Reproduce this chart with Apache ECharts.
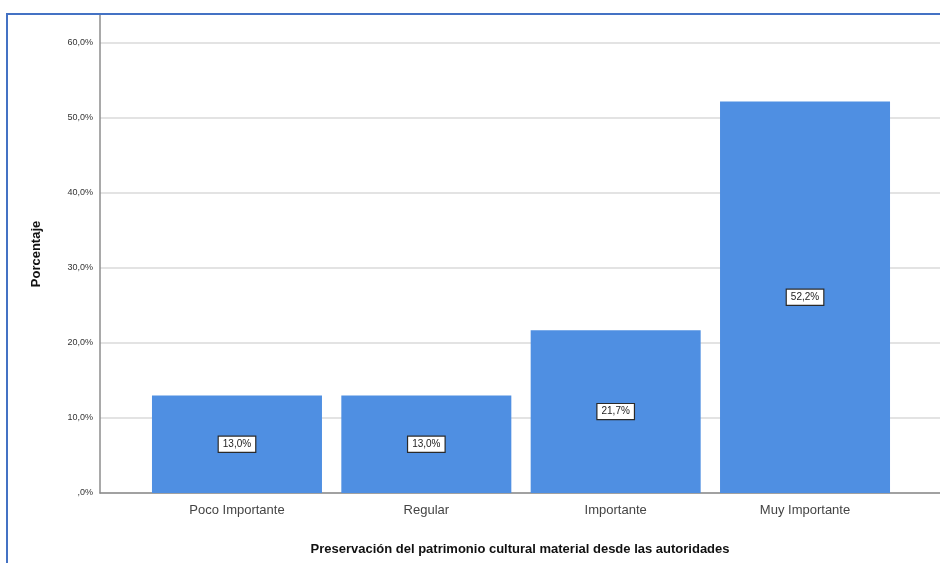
<!DOCTYPE html>
<html><head><meta charset="utf-8">
<script src="https://cdn.jsdelivr.net/npm/echarts@6/dist/echarts.min.js"></script>
<style>
html,body{margin:0;padding:0;background:#fff;}
#c{width:940px;height:563px;position:absolute;left:0;top:0;}
#frame{position:absolute;left:6px;top:13px;width:940px;height:560px;border-top:2px solid #4472c4;border-left:2px solid #4472c4;pointer-events:none;}
</style></head>
<body>
<div id="c"></div><div id="frame"></div>
<script>
const categories = ['Poco Importante', 'Regular', 'Importante', 'Muy Importante'];
const percentages = [13.0, 13.0, 21.7, 52.2];
const xTitle = 'Preservación del patrimonio cultural material desde las autoridades';
const yTitle = 'Porcentaje';

const fmt = v => (v === 0 ? ',0%' : v.toFixed(1).replace('.', ',') + '%');
const topVal = 63.73;
const font = 'Liberation Sans, Arial, sans-serif';

const chart = echarts.init(document.getElementById('c'));
chart.setOption({
  animation: false,
  textStyle: { fontFamily: font },
  grid: [
    { left: 100, right: 0, top: 15, bottom: 70, outerBoundsMode: 'none', containLabel: false },
    { left: 142.3, right: 40.3, top: 15, bottom: 70, outerBoundsMode: 'none', containLabel: false }
  ],
  xAxis: [
    { gridIndex: 0, type: 'category', data: [''], axisTick: { show: false }, axisLabel: { show: false },
      axisLine: { lineStyle: { color: '#8c8c8c', width: 1.5 } },
      name: xTitle, nameLocation: 'middle', nameGap: 50,
      nameTextStyle: { fontSize: 13, fontWeight: 'bold', color: '#111', fontFamily: font } },
    { gridIndex: 1, type: 'category', data: categories, axisTick: { show: false },
      axisLine: { show: false },
      axisLabel: { fontSize: 13, color: '#444', margin: 11, fontFamily: font } }
  ],
  yAxis: [
    { gridIndex: 0, type: 'value', min: 0, max: topVal, interval: 10,
      axisLine: { show: true, lineStyle: { color: '#8c8c8c', width: 1.5 } },
      axisTick: { show: false },
      axisLabel: { fontSize: 9, color: '#333', margin: 7, showMaxLabel: false, formatter: fmt },
      splitLine: { show: true, lineStyle: { color: ['#dadada','#dadada','#dadada','#dadada','#dadada','#dadada','#dadada','rgba(0,0,0,0)'], width: 1.5 } },
      name: yTitle, nameLocation: 'middle', nameGap: 57,
      nameTextStyle: { fontSize: 13, fontWeight: 'bold', color: '#111', fontFamily: font } },
    { gridIndex: 1, type: 'value', min: 0, max: topVal, show: false, splitLine: { show: false } }
  ],
  series: [{
    type: 'bar', xAxisIndex: 1, yAxisIndex: 1,
    data: percentages, barWidth: 170,
    itemStyle: { color: '#4f8fe2' },
    label: { show: true, position: 'inside', formatter: p => fmt(p.value),
      fontSize: 10, color: '#222', backgroundColor: '#fff', borderColor: '#2a2a2a', borderWidth: 1.2,
      padding: [3, 4, 2, 4], fontFamily: font }
  }]
});
</script>
</body></html>
